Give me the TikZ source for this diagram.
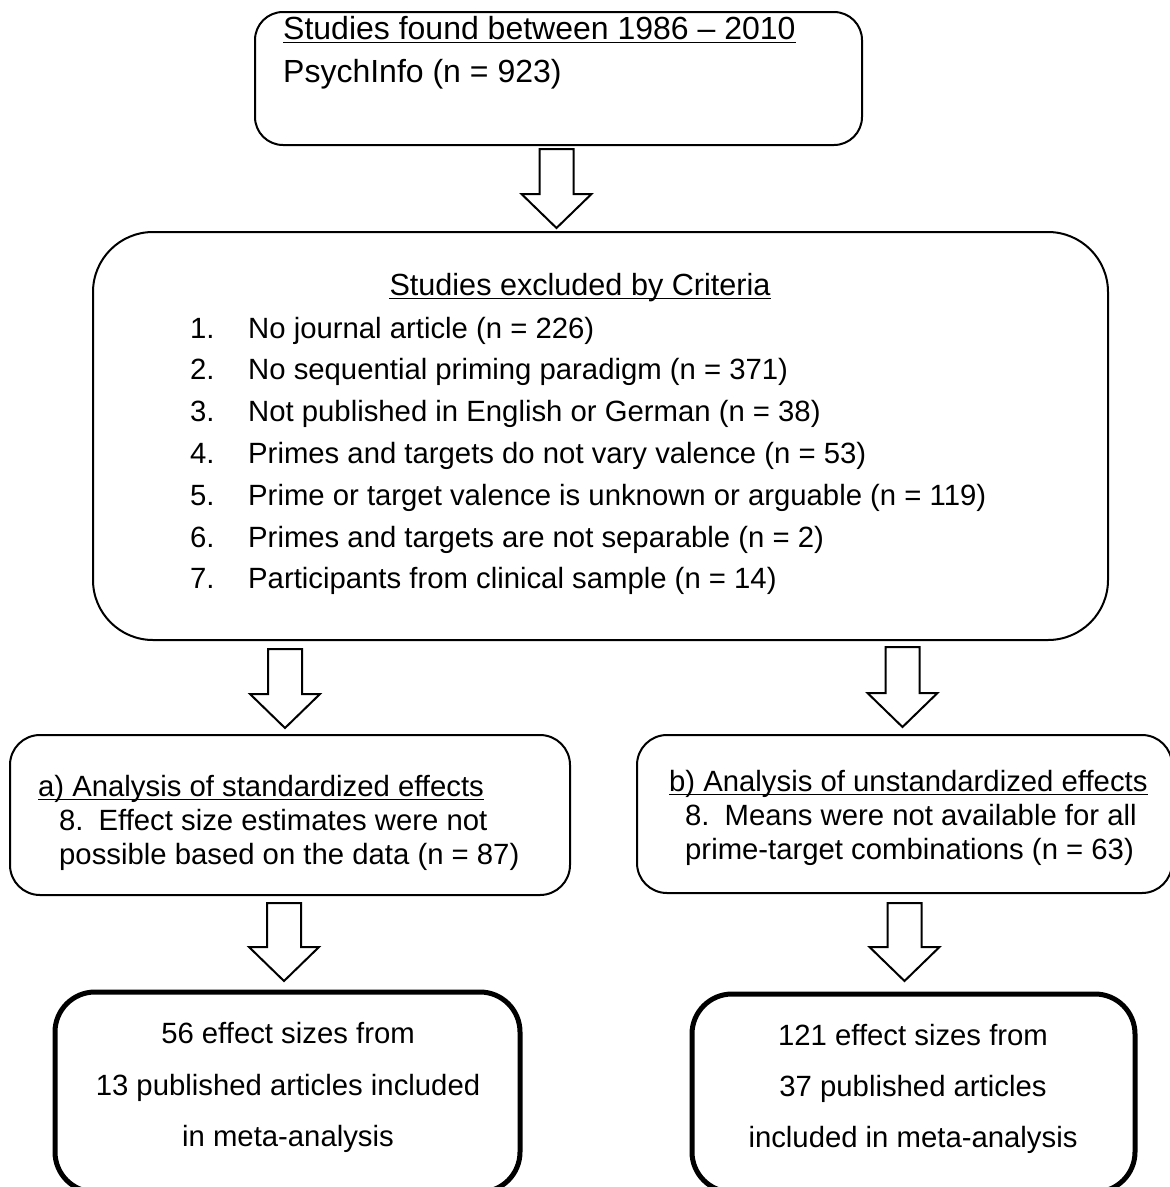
\documentclass[tikz,border=0pt]{standalone}
\usepackage{fontspec}
\setmainfont{Liberation Sans}
\usetikzlibrary{calc}
\newcommand\blockarrow[2]{%
  \draw[barrow] let \p1=(#1), \p2=(#2) in
   (\x1-17pt,\y1) -- (\x1+17pt,\y1) -- (\x1+17pt,\y2+34pt) -- (\x1+35pt,\y2+34pt)
   -- (\x1,\y2) -- (\x1-35pt,\y2+34pt) -- (\x1-17pt,\y2+34pt) -- cycle;}
\newcommand\ulinenode[1]{%
  \draw[uline] ([yshift=-3.5pt]#1.base west) -- ([yshift=-3.5pt]#1.base east);}
\begin{document}
\begin{tikzpicture}[x=1pt,y=-1pt,
  box/.style={draw, line width=2pt, rounded corners=#1, inner sep=0pt, fill=white},
  finalbox/.style={draw, line width=5pt, rounded corners=40pt, inner sep=0pt},
  barrow/.style={draw, line width=2pt, fill=white, line join=miter},
  uline/.style={line width=1.8pt},
  txt/.style={inner sep=0pt, anchor=base west, font=\fontsize{29.3}{34}\selectfont},
  ctxt/.style={inner sep=0pt, anchor=base, font=\fontsize{29.3}{34}\selectfont},
  bigtxt/.style={inner sep=0pt, anchor=base west, font=\fontsize{32}{38}\selectfont}]
\useasboundingbox (0,0) rectangle (1170,1187);
\clip (0,0) rectangle (1170,1187);

% boxes
\node[box=28pt, minimum width=607pt, minimum height=133pt] (top) at (558.5,78.5) {};
\node[box=60pt, minimum width=1015pt, minimum height=408pt] (excl) at (600.5,436) {};
\node[box=30pt, minimum width=560pt, minimum height=160pt] (boxa) at (290,815) {};
\node[box=30pt, minimum width=535pt, minimum height=158pt] (boxb) at (904.5,814) {};
\node[finalbox, minimum width=465pt, minimum height=200pt] (boxc) at (287.5,1092) {};
\node[finalbox, minimum width=443pt, minimum height=198pt] (boxd) at (913.5,1093) {};

% top box text
\node[bigtxt] (t1) at (283,39) {Studies found between 1986 – 2010};
\ulinenode{t1}
\node[bigtxt] (t2) at (283,82) {PsychInfo (n = 923)};

% exclusion box text
\node[ctxt, font=\fontsize{30.6}{36}\selectfont] (ex0) at (580,295) {Studies excluded by Criteria};
\ulinenode{ex0}
\foreach \n/\t [count=\i from 0] in {
  1/{No journal article (n = 226)},
  2/{No sequential priming paradigm (n = 371)},
  3/{Not published in English or German (n = 38)},
  4/{Primes and targets do not vary valence (n = 53)},
  5/{Prime or target valence is unknown or arguable (n = 119)},
  6/{Primes and targets are not separable (n = 2)},
  7/{Participants from clinical sample (n = 14)}}{
  \node[txt] (num\n) at (190,338+41.8*\i) {\n.};
  \node[txt] (item\n) at (248,338+41.8*\i) {\t};
}

% box a text
\node[txt] (a1) at (38,796) {a) Analysis of standardized effects};
\ulinenode{a1}
\node[txt] (a2) at (59,830) {8.\hspace{15pt}Effect size estimates were not};
\node[txt] (a3) at (59,864) {possible based on the data (n = 87)};

% box b text
\node[txt] (b1) at (669,791) {b) Analysis of unstandardized effects};
\ulinenode{b1}
\node[txt] (b2) at (685,825) {8.\hspace{15pt}Means were not available for all};
\node[txt] (b3) at (685,859) {prime-target combinations (n = 63)};

% final boxes text
\node[ctxt] (c1) at (288,1043) {56 effect sizes from};
\node[ctxt] (c2) at (288,1095) {13 published articles included};
\node[ctxt] (c3) at (288,1146) {in meta-analysis};
\node[ctxt] (d1) at (913,1045) {121 effect sizes from};
\node[ctxt] (d2) at (913,1096) {37 published articles};
\node[ctxt] (d3) at (913,1147) {included in meta-analysis};

% arrows
\coordinate (a1s) at (556.5,149);   \coordinate (a1e) at (556.5,228);
\coordinate (a2ls) at (285,649);    \coordinate (a2le) at (285,728);
\coordinate (a2rs) at (902.5,647);  \coordinate (a2re) at (902.5,727);
\coordinate (a3ls) at (284,903);    \coordinate (a3le) at (284,981);
\coordinate (a3rs) at (904.5,903);  \coordinate (a3re) at (904.5,981);
\blockarrow{a1s}{a1e}
\blockarrow{a2ls}{a2le}
\blockarrow{a2rs}{a2re}
\blockarrow{a3ls}{a3le}
\blockarrow{a3rs}{a3re}
\end{tikzpicture}
\end{document}
